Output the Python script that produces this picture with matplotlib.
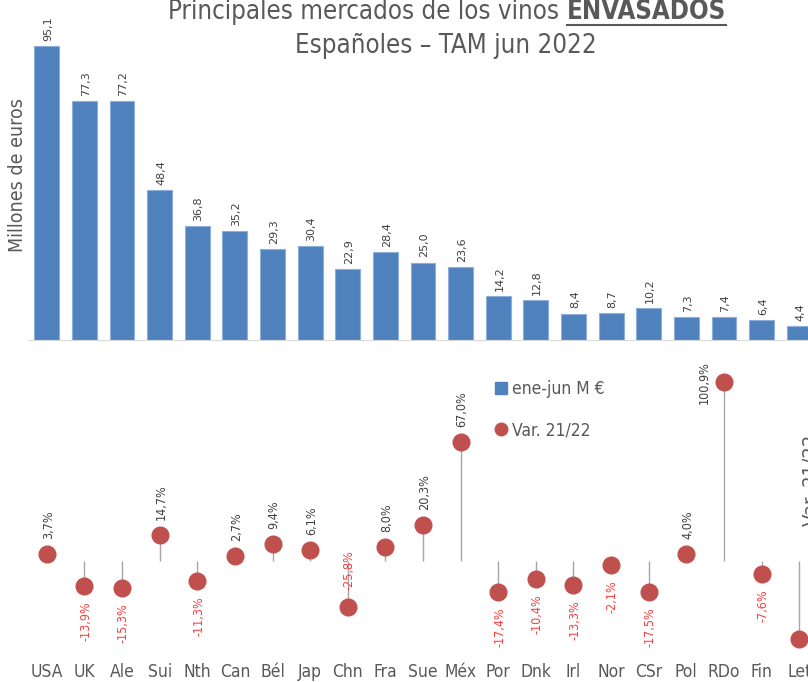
import matplotlib
matplotlib.use('Agg')
import matplotlib.pyplot as plt
from matplotlib.lines import Line2D
from matplotlib import font_manager

# fuente estrecha si existe alguna instalada
estrechas = [f for f in font_manager.fontManager.ttflist
             if ('Narrow' in f.name or 'Condensed' in f.name or f.stretch in ('condensed', 'semi-condensed'))
             and f.style == 'normal' and f.weight in (300, 400, 'normal', 'light')]
if estrechas:
    fuente = estrechas[0].name
    estirar = estrechas[0].stretch
else:
    fuente = 'DejaVu Sans'
    estirar = 'normal'
plt.rcParams['font.family'] = [fuente, 'DejaVu Sans']
plt.rcParams['font.stretch'] = estirar

paises = ['USA', 'UK', 'Ale', 'Sui', 'Nth', 'Can', 'Bél', 'Jap', 'Chn', 'Fra', 'Sue',
          'Méx', 'Por', 'Dnk', 'Irl', 'Nor', 'CSr', 'Pol', 'RDo', 'Fin', 'Let']
ene_jun = [95.1, 77.3, 77.2, 48.4, 36.8, 35.2, 29.3, 30.4, 22.9, 28.4, 25.0,
           23.6, 14.2, 12.8, 8.4, 8.7, 10.2, 7.3, 7.4, 6.4, 4.4]
var_21_22 = [3.7, -13.9, -15.3, 14.7, -11.3, 2.7, 9.4, 6.1, -25.8, 8.0, 20.3,
             67.0, -17.4, -10.4, -13.3, -2.1, -17.5, 4.0, 100.9, -7.6, -44.0]

W, H = 808, 682
fig = plt.figure(figsize=(W / 100, H / 100), dpi=100)

def px_axes(left, top, right, bottom):
    return fig.add_axes([left / W, 1 - bottom / H, (right - left) / W, (bottom - top) / H])

x = list(range(len(paises)))
gris = '#595959'

# barras
ax1 = px_axes(28, 31, 818, 340)
ax1.bar(x, ene_jun, width=0.66, color='#4F81BD', edgecolor='#8EAEDB', linewidth=0.8)
ax1.set_xlim(-0.5, len(paises) - 0.5)
ax1.set_ylim(0, 100)
for s in ['top', 'right', 'left']:
    ax1.spines[s].set_visible(False)
ax1.spines['bottom'].set_color('#D9D9D9')
ax1.set_xticks([])
ax1.set_yticks([])
for i, v in enumerate(ene_jun):
    ax1.annotate(f'{v:.1f}'.replace('.', ','), (i, v), xytext=(1, 4), textcoords='offset points',
                 rotation=90, ha='center', va='bottom', fontsize=8, color='#404040',
                 family=['DejaVu Sans'], stretch='normal')
fig.text(18 / W, 1 - 175 / H, 'Millones de euros', rotation=90, ha='center', va='center',
         fontsize=14, color=gris)

# piruletas
ax2 = px_axes(28, 345, 818, 655)
ax2.set_xlim(-0.5, len(paises) - 0.5)
ax2.set_ylim(-53.1, 122)
ax2.vlines(x, 0, var_21_22, color='#A6A6A6', linewidth=1, zorder=1)
ax2.plot(x, var_21_22, 'o', color='#C0504D', markersize=12, zorder=2)
for s in ['top', 'right', 'left', 'bottom']:
    ax2.spines[s].set_visible(False)
ax2.set_yticks([])
ax2.set_xticks(x)
ax2.set_xticklabels(paises, fontsize=12.5, color=gris)
ax2.tick_params(axis='x', length=0, pad=6)

for i, v in enumerate(var_21_22):
    if i == len(paises) - 1:
        continue  # etiqueta de Let fuera del recorte
    txt = f'{v:.1f}%'.replace('.', ',')
    kw = dict(textcoords='offset points', rotation=90, fontsize=9, ha='center')
    if paises[i] == 'RDo':
        ax2.annotate(txt, (i, v), xytext=(-14, 0), va='center', color='#404040', **kw)
    elif paises[i] == 'Chn':
        ax2.annotate(txt, (i, v), xytext=(1, 12), va='bottom', color='#FF3B3B', **kw)
    elif v >= 0:
        ax2.annotate(txt, (i, v), xytext=(1, 11), va='bottom', color='#404040', **kw)
    else:
        ax2.annotate(txt, (i, v), xytext=(1, -11), va='top', color='#FF3B3B', **kw)

# leyenda
handles = [Line2D([], [], marker='s', color='#4F81BD', linestyle='none', markersize=9),
           Line2D([], [], marker='o', color='#C0504D', linestyle='none', markersize=9)]
fig.legend(handles, ['ene-jun M €', 'Var. 21/22'], loc='upper left',
           bbox_to_anchor=(477 / W, 1 - 364 / H), frameon=False, fontsize=12.5,
           labelcolor=gris, handletextpad=0.1, labelspacing=1.35, handlelength=1)

fig.text(802 / W, 1 - 480 / H, 'Var. 21/22', rotation=90, ha='left', va='center',
         fontsize=14.5, color=gris)

# título: parte normal + parte en negrita subrayada, centrado
r = fig.canvas.get_renderer()
t1 = fig.text(0, 1 - 12 / H, 'Principales mercados de los vinos ', ha='left', va='center',
              fontsize=18.5, color=gris)
t2 = fig.text(0, 1 - 12 / H, 'ENVASADOS', ha='left', va='center',
              fontsize=18.5, color=gris, weight='bold')
w1 = t1.get_window_extent(r).width
w2 = t2.get_window_extent(r).width
x0 = 447 - (w1 + w2) / 2
t1.set_x(x0 / W)
t2.set_x((x0 + w1) / W)
fig.add_artist(Line2D([(x0 + w1) / W, (x0 + w1 + w2) / W], [1 - 25 / H, 1 - 25 / H],
                      color=gris, linewidth=1.5))
fig.text(446 / W, 1 - 46 / H, 'Españoles – TAM jun 2022', ha='center', va='center',
         fontsize=18.5, color=gris)

fig.savefig('out.png', dpi=100)
